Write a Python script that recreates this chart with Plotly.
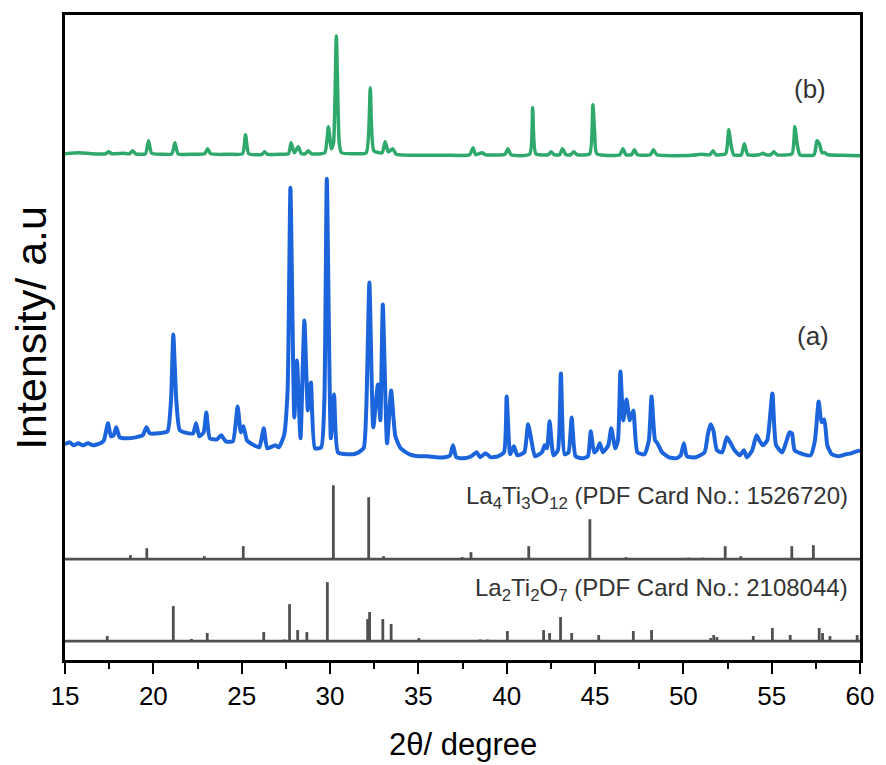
import plotly.graph_objects as go

# ---------------- data (2theta in degrees, intensity in arbitrary units) ----------------
# (b) pattern
b_2theta = [15.0, 15.8, 16.5, 17.3, 17.47, 17.65, 18.3, 18.65, 18.83, 19.0, 19.55, 19.73, 19.9,
            20.5, 21.05, 21.22, 21.4, 22.2, 22.9, 23.07, 23.25, 24.3, 25.05, 25.22, 25.4, 26.15,
            26.3, 26.45, 27.2, 27.65, 27.8, 27.98, 28.2, 28.38, 28.6, 28.77, 28.95, 29.7, 29.91,
            30.08, 30.2, 30.36, 30.52, 30.65, 31.4, 32.05, 32.28, 32.48, 32.95, 33.12, 33.3, 33.55,
            33.75, 35.0, 36.5, 37.9, 38.09, 38.25, 38.6, 38.8, 39.9, 40.07, 40.25, 41.3, 41.47,
            41.65, 42.35, 42.52, 42.7, 43.0, 43.16, 43.35, 43.62, 43.8, 44.0, 44.7, 44.88, 44.98,
            45.1, 46.4, 46.58, 46.75, 47.07, 47.23, 47.4, 48.13, 48.31, 48.5, 50.5, 51.0, 51.5,
            51.68, 51.85, 52.4, 52.57, 52.7, 52.85, 53.28, 53.45, 53.65, 54.3, 54.5, 54.7, 54.95,
            55.12, 55.3, 56.15, 56.31, 56.45, 56.6, 57.4, 57.56, 57.7, 57.85, 58.0, 58.2, 59.0, 60.0]
b_intensity = [7, 8, 7, 7, 9, 7, 7.5, 7, 10, 7, 7, 20, 7.5,
               6.5, 7, 18, 7, 6.5, 7, 12, 7, 6.5, 7, 26, 7, 6.5,
               9, 6.5, 6.5, 7, 18, 8, 14, 7, 7, 10, 7, 8, 34,
               12, 18, 125, 18, 8, 7, 8, 73, 10, 8, 19, 9, 12,
               6.5, 5.5, 5.5, 6, 13, 6, 8, 6, 6.5, 12, 6, 6.5, 53,
               7, 6, 9, 6, 6, 12, 6, 6, 9, 6, 7, 56, 28,
               7, 6, 12, 6, 6, 11, 6, 6, 11, 6, 5.5, 6.5, 6,
               10, 6, 7, 31, 16, 6, 6, 17, 6, 6, 7.5, 6, 6,
               9, 6, 7, 34, 16, 6, 6, 20, 17, 8, 8, 6, 5.5, 5]

# (a) pattern
a_2theta = [15.0, 15.25, 15.5, 15.75, 16.0, 16.3, 16.6, 17.0, 17.2, 17.43, 17.6, 17.75, 17.9,
            18.1, 18.5, 19.0, 19.4, 19.61, 19.8, 20.3, 20.8, 21.0, 21.13, 21.3, 21.5, 22.0, 22.25,
            22.42, 22.6, 22.85, 23.0, 23.2, 23.6, 23.84, 24.1, 24.5, 24.77, 24.95, 25.1, 25.3,
            25.7, 26.0, 26.25, 26.45, 26.9, 27.1, 27.4, 27.6, 27.76, 27.98, 28.13, 28.33, 28.55,
            28.75, 28.92, 29.15, 29.5, 29.68, 29.82, 30.05, 30.23, 30.45, 31.0, 31.5, 31.9, 32.05,
            32.23, 32.45, 32.71, 32.85, 32.99, 33.23, 33.46, 33.7, 34.0, 34.5, 35.0, 35.5, 36.0,
            36.5, 36.8, 36.96, 37.15, 37.6, 38.0, 38.3, 38.5, 38.8, 39.1, 39.5, 39.85, 40.0, 40.2,
            40.41, 40.6, 41.0, 41.21, 41.4, 41.6, 42.0, 42.15, 42.28, 42.43, 42.65, 42.9, 43.07,
            43.28, 43.5, 43.68, 43.9, 44.3, 44.6, 44.76, 44.95, 45.1, 45.27, 45.45, 45.75, 45.92,
            46.15, 46.3, 46.44, 46.6, 46.78, 46.97, 47.17, 47.4, 47.8, 48.05, 48.2, 48.4, 48.54,
            48.8, 49.2, 49.6, 49.85, 50.03, 50.2, 50.7, 51.2, 51.38, 51.53, 51.7, 51.9, 52.2,
            52.46, 52.65, 52.9, 53.2, 53.43, 53.6, 53.9, 54.14, 54.3, 54.5, 54.75, 55.04, 55.25,
            55.6, 55.85, 56.01, 56.15, 56.3, 56.8, 57.2, 57.45, 57.66, 57.82, 57.98, 58.15, 58.4,
            58.8, 59.2, 59.5, 59.8, 60.0]
a_intensity = [16, 18, 15, 17, 15, 17, 15, 17, 20, 37, 24, 25, 33,
               23, 22, 23, 25, 33, 27, 27, 29, 60, 126, 60, 30, 27, 27,
               37, 24, 28, 48, 22, 21, 25, 19, 19, 54, 28, 34, 20,
               15, 13, 32, 12, 15, 13, 25, 70, 273, 43, 100, 22, 140,
               50, 78, 12, 13, 60, 282, 22, 66, 8, 6, 7, 12, 50,
               178, 33, 76, 40, 156, 17, 70, 24, 12, 6, 4, 4, 3,
               3, 5, 15, 3, 2, 4, 8, 3, 7, 3, 4, 8, 64, 6,
               14, 5, 8, 36, 20, 4, 8, 15, 12, 39, 5, 10, 87,
               6, 8, 43, 4, 2, 4, 29, 8, 10, 17, 8, 15, 32,
               12, 20, 89, 40, 61, 40, 50, 8, 6, 20, 64, 20, 17,
               8, 3, 2, 5, 17, 4, 3, 8, 25, 36, 30, 10, 8,
               23, 18, 10, 5, 10, 3, 10, 25, 20, 15, 20, 67, 15,
               8, 20, 28, 27, 10, 6, 5, 20, 59, 38, 41, 15, 6,
               4, 6, 7, 9, 10]

# Reference patterns (stick positions / relative intensities)
la4_pos = [18.7, 19.63, 22.89, 25.09, 30.19, 32.19, 33.03, 37.48, 37.98, 41.25, 44.71, 46.76,
           50.3, 51.1, 52.37, 53.25, 56.14, 57.36]
la4_int = [4, 11, 3, 13, 74, 62, 3, 2, 7, 13, 40, 2, 1.5, 1.5, 13, 3, 13, 14]

la2_pos = [17.39, 19.2, 21.13, 22.16, 23.05, 26.25, 27.42, 27.71, 28.17, 28.69, 29.85, 32.13,
           32.24, 32.99, 33.46, 35.03, 38.5, 38.9, 40.04, 42.09, 42.43, 43.05, 43.68, 45.21,
           47.17, 48.2, 51.55, 51.72, 51.9, 53.96, 55.04, 56.05, 57.69, 57.88, 58.3, 59.84]
la2_int = [5, 1, 35, 2, 8, 9, 1.5, 37, 11, 9, 59, 22,
           29, 22, 17, 3, 1.5, 1.5, 10, 11, 8, 24, 8, 6,
           10, 11, 3, 6, 4, 5, 13, 6, 13, 8, 5, 6]

x_ticks = [15, 20, 25, 30, 35, 40, 45, 50, 55, 60]
x_minor = [17.5, 22.5, 27.5, 32.5, 37.5, 42.5, 47.5, 52.5, 57.5]
labels = {"a": "(a)", "b": "(b)",
          "la4": "La<sub>4</sub>Ti<sub>3</sub>O<sub>12</sub> (PDF Card No.: 1526720)",
          "la2": "La<sub>2</sub>Ti<sub>2</sub>O<sub>7</sub> (PDF Card No.: 2108044)"}

# ---------------- layout constants (vertical stacking offsets) ----------------
OFF_B, OFF_A, OFF_LA4, OFF_LA2 = 500, 200, 101, 19
Y_MAX = 646
GREEN, BLUE, GREY = "#2fa86b", "#1b64dc", "#505050"
FONT = "Liberation Sans, Arial"

fig = go.Figure()

fig.add_trace(go.Scatter(x=b_2theta, y=[v + OFF_B for v in b_intensity], mode="lines",
                         line=dict(color=GREEN, width=3.5, shape="spline", smoothing=0.5),
                         showlegend=False))
fig.add_trace(go.Scatter(x=a_2theta, y=[v + OFF_A for v in a_intensity], mode="lines",
                         line=dict(color=BLUE, width=4, shape="spline", smoothing=0.5),
                         showlegend=False))


def sticks(pos, inten, off):
    xs, ys = [x_ticks[0], x_ticks[-1], None], [off, off, None]
    for p, h in zip(pos, inten):
        xs += [p, p, None]
        ys += [off, off + h, None]
    return xs, ys


for pos, inten, off in [(la4_pos, la4_int, OFF_LA4), (la2_pos, la2_int, OFF_LA2)]:
    xs, ys = sticks(pos, inten, off)
    fig.add_trace(go.Scatter(x=xs, y=ys, mode="lines", line=dict(color=GREY, width=2.8),
                             showlegend=False, connectgaps=False))

TXT = "#333333"
fig.add_annotation(x=57.15, y=572, text=labels["b"], showarrow=False,
                   font=dict(size=26, color=TXT, family=FONT))
fig.add_annotation(x=57.32, y=325, text=labels["a"], showarrow=False,
                   font=dict(size=26, color=TXT, family=FONT))
fig.add_annotation(x=59.45, y=163, text=labels["la4"], showarrow=False, xanchor="right",
                   yanchor="middle", font=dict(size=24, color=TXT, family=FONT))
fig.add_annotation(x=59.45, y=71, text=labels["la2"], showarrow=False, xanchor="right",
                   yanchor="middle", font=dict(size=24, color=TXT, family=FONT))

# axis titles
fig.add_annotation(xref="paper", yref="paper", x=0.5, y=-0.1316, text="2θ/ degree",
                   showarrow=False, yanchor="middle",
                   font=dict(size=31, color="black", family=FONT))
fig.add_annotation(xref="paper", yref="paper", x=-0.0436, y=0.5155, text="Intensity/ a.u",
                   showarrow=False, textangle=-90, xanchor="center", yanchor="middle",
                   font=dict(size=43, color="black", family=FONT))

fig.update_xaxes(range=[15, 60], tickvals=x_ticks, ticks="outside", ticklen=11, tickwidth=2.2,
                 tickcolor="black", showline=True, linecolor="black", linewidth=2.6, mirror=True,
                 showgrid=False, zeroline=False,
                 tickfont=dict(size=26, color="black", family=FONT),
                 minor=dict(tickvals=x_minor, ticks="outside", ticklen=6, tickwidth=2.2,
                            tickcolor="black", showgrid=False))
fig.update_yaxes(range=[0, Y_MAX], showticklabels=False, ticks="", showline=True,
                 linecolor="black", linewidth=2.6, mirror=True, showgrid=False, zeroline=False)

fig.update_layout(width=886, height=765, margin=dict(l=65, r=18, t=14, b=105),
                  plot_bgcolor="white", paper_bgcolor="white", showlegend=False)

fig.write_html("out.html")
